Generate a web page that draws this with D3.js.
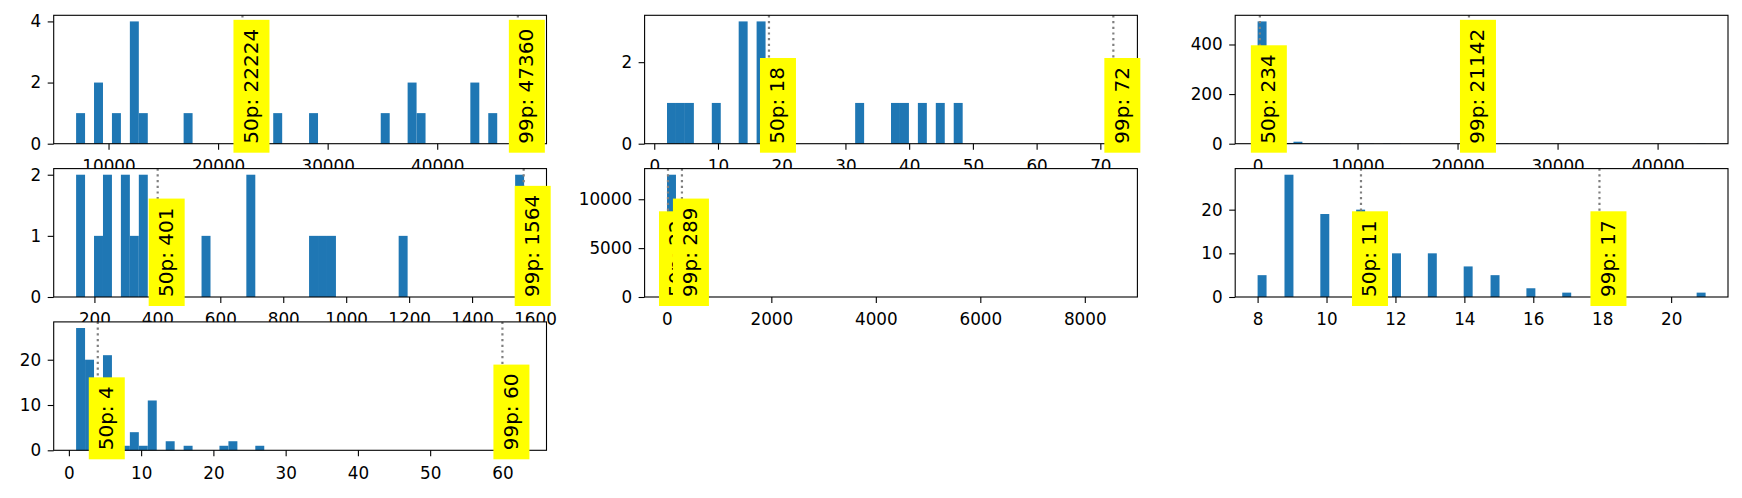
<!DOCTYPE html>
<html>
<head>
<meta charset="utf-8">
<script src="https://cdn.jsdelivr.net/npm/d3@7"></script>
<style>
  body { margin: 0; background: #fff; }
  svg { display: block; font-family: "DejaVu Sans", sans-serif; }
</style>
</head>
<body>
<div id="chart"></div>
<script>
// each panel is a 50-bin histogram: [first edge, last edge] + counts per bin
// percentiles are drawn at their value, labelled truncated to int
var pctNames = ["50p", "99p"];

var p1Range = [7040, 47930];
var p1Counts = [1,0,2,0,1,0,4,1,0,0, 0,0,1,0,0,0,0,0,1,0, 0,0,1,0,0,0,1,0,0,0,
                0,0,0,0,1,0,0,2,1,0, 0,0,0,0,2,0,1,0,0,1];
var p1Pct = [22224, 47360];
var p1XTicks = [10000, 20000, 30000, 40000];
var p1YTicks = [0, 2, 4];

var p2Range = [2, 72.3];
var p2Counts = [1,1,1,0,0,1,0,0,3,0, 3,1,1,1,0,0,0,0,0,0, 0,1,0,0,0,1,1,0,1,0,
                1,0,1,0,0,0,0,0,0,0, 0,0,0,0,0,0,0,0,0,2];
var p2Pct = [18, 72.04];
var p2XTicks = [0, 10, 20, 30, 40, 50, 60, 70];
var p2YTicks = [0, 2];

var p3Range = [10, 44800];
var p3Counts = [493,14,6,3,8,1,1,1,0,0, 0,1,1,0,1,1,0,0,0,0, 0,0,0,1,0,1,0,1,0,0,
                0,0,0,0,0,0,0,0,0,0, 0,0,0,0,0,0,0,0,0,1];
var p3Pct = [234, 21142];
var p3XTicks = [0, 10000, 20000, 30000, 40000];
var p3YTicks = [0, 200, 400];

var p4Range = [141.8, 1565.3];
var p4Counts = [2,0,1,2,0,2,1,2,0,0, 1,0,0,0,1,0,0,0,0,2, 0,0,0,0,0,0,1,1,1,0,
                0,0,0,0,0,0,1,0,0,0, 0,0,0,0,0,0,0,0,0,2];
var p4Pct = [401, 1564];
var p4XTicks = [200, 400, 600, 800, 1000, 1200, 1400, 1600];
var p4YTicks = [0, 1, 2];

var p5Range = [3, 8578];
var p5Counts = [12510,110,35,12,6,3,2,0,1,0, 0,1,0,0,0,1,0,0,0,0, 0,0,1,0,0,0,0,0,0,0,
                0,1,0,0,0,0,0,0,0,0, 0,0,0,0,0,0,0,0,0,1];
var p5Pct = [22, 289];
var p5XTicks = [0, 2000, 4000, 6000, 8000];
var p5YTicks = [0, 5000, 10000];

var p6Range = [8, 21];
var p6Counts = [5,0,0,28,0,0,0,19,0,0, 0,20,0,0,0,10,0,0,0,10, 0,0,0,7,0,0,5,0,0,0,
                2,0,0,0,1,0,0,0,1,0, 0,0,0,0,0,0,0,0,0,1];
var p6Pct = [11, 17.92];
var p6XTicks = [8, 10, 12, 14, 16, 18, 20];
var p6YTicks = [0, 10, 20];

var p7Range = [1, 63];
var p7Counts = [27,20,15,21,10,1,4,1,11,0, 2,0,1,0,0,0,1,2,0,0, 1,0,0,0,0,0,0,0,0,0,
                0,0,0,0,0,0,0,0,0,0, 0,0,0,0,0,0,0,2,0,1];
var p7Pct = [4, 60];
var p7XTicks = [0, 10, 20, 30, 40, 50, 60];
var p7YTicks = [0, 10, 20];

var panels = [
    {range: p1Range, counts: p1Counts, pct: p1Pct, xTicks: p1XTicks, yTicks: p1YTicks},
    {range: p2Range, counts: p2Counts, pct: p2Pct, xTicks: p2XTicks, yTicks: p2YTicks},
    {range: p3Range, counts: p3Counts, pct: p3Pct, xTicks: p3XTicks, yTicks: p3YTicks},
    {range: p4Range, counts: p4Counts, pct: p4Pct, xTicks: p4XTicks, yTicks: p4YTicks},
    {range: p5Range, counts: p5Counts, pct: p5Pct, xTicks: p5XTicks, yTicks: p5YTicks},
    {range: p6Range, counts: p6Counts, pct: p6Pct, xTicks: p6XTicks, yTicks: p6YTicks},
    {range: p7Range, counts: p7Counts, pct: p7Pct, xTicks: p7XTicks, yTicks: p7YTicks}
];

var barColor = "#1f77b4";
var axW = 492.8, axH = 128.4;
var colX = [53.7, 644.6, 1235.2];
var rowY = [15.3, 168.6, 321.9];
var tickLen = 6, tickFont = 16.8, boxFont = 20;

var svg = d3.select("#chart")
    .append("svg")
    .attr("width", 1742)
    .attr("height", 498);

panels.forEach((p, i) => {
    var [lo, hi] = p.range;
    var margin = (hi - lo) * 0.05;
    var step = (hi - lo) / p.counts.length;
    var x = d3.scaleLinear().domain([lo - margin, hi + margin]).range([0, axW]);
    var y = d3.scaleLinear().domain([0, d3.max(p.counts) * 1.05]).range([axH, 0]);
    var bins = p.counts.map((c, j) => ({x0: lo + j * step, x1: lo + (j + 1) * step, c}));

    var g = svg.append("g")
        .attr("transform", `translate(${colX[i % 3]},${rowY[Math.floor(i / 3)]})`);

    // axes background covers tick labels of the row above
    g.append("rect").attr("width", axW).attr("height", axH).attr("fill", "#fff");

    g.selectAll(".bar")
        .data(bins.filter(d => d.c > 0))
        .join("rect")
        .attr("class", "bar")
        .attr("x", d => x(d.x0))
        .attr("width", d => x(d.x1) - x(d.x0))
        .attr("y", d => y(d.c))
        .attr("height", d => y(0) - y(d.c))
        .attr("fill", barColor);

    g.selectAll(".pline")
        .data(p.pct)
        .join("line")
        .attr("class", "pline")
        .attr("x1", d => x(d)).attr("x2", d => x(d))
        .attr("y1", 0).attr("y2", axH)
        .attr("stroke", "#808080")
        .attr("stroke-width", 2.2)
        .attr("stroke-dasharray", "2.2,3.5");

    var xa = g.append("g")
        .attr("transform", `translate(0,${axH})`)
        .call(d3.axisBottom(x).tickValues(p.xTicks).tickFormat(d3.format("d"))
            .tickSize(tickLen).tickPadding(10.5));
    var ya = g.append("g")
        .call(d3.axisLeft(y).tickValues(p.yTicks).tickFormat(d3.format("d"))
            .tickSize(tickLen).tickPadding(6.5));
    [xa, ya].forEach(a => {
        a.select(".domain").remove();
        a.selectAll("line").attr("stroke", "#000").attr("stroke-width", 1.1);
        a.selectAll("text").attr("fill", "#000")
            .style("font-size", tickFont + "px")
            .style("font-family", "'DejaVu Sans', sans-serif");
    });

    g.append("rect")
        .attr("width", axW).attr("height", axH)
        .attr("fill", "none").attr("stroke", "#000").attr("stroke-width", 1.1);

    // rotated percentile labels on yellow boxes, anchored at y = 0
    p.pct.forEach((v, k) => {
        var a = x(v);
        var lg = g.append("g");
        var box = lg.append("rect").attr("fill", "yellow");
        var t = lg.append("text")
            .attr("transform", `translate(${a + 15.5},${axH}) rotate(-90)`)
            .attr("fill", "#000")
            .style("font-size", boxFont + "px")
            .text(`${pctNames[k]}: ${Math.floor(v)}`);
        var len = t.node().getComputedTextLength();
        box.attr("x", a - 9).attr("width", 36)
            .attr("y", axH - len - 9).attr("height", len + 18);
    });
});
</script>
</body>
</html>
